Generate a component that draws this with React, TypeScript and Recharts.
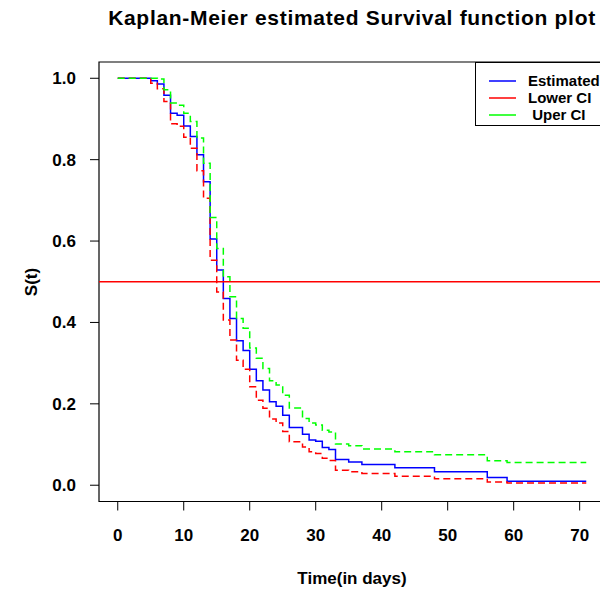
import React from "react";
import {
  LineChart,
  Line,
  XAxis,
  YAxis,
  ReferenceLine,
  ReferenceArea,
  Label,
} from "recharts";

// step times (days) and the three survival curves
const times = [0, 5, 6, 7, 8, 9, 10, 11, 12, 13, 14, 15, 16, 17, 18, 19, 20, 21, 22, 23, 24, 25, 26, 28, 29, 30, 31, 32, 33, 35, 37, 42, 48, 56, 59, 71];
const estimated = [1, 0.994, 0.986, 0.958, 0.914, 0.909, 0.883, 0.857, 0.812, 0.746, 0.605, 0.529, 0.459, 0.41, 0.355, 0.331, 0.285, 0.257, 0.234, 0.205, 0.194, 0.172, 0.142, 0.125, 0.111, 0.108, 0.093, 0.088, 0.063, 0.057, 0.051, 0.043, 0.033, 0.019, 0.0098, 0.0098];
const lowerCI = [1, 0.988, 0.974, 0.943, 0.888, 0.882, 0.855, 0.828, 0.773, 0.705, 0.553, 0.475, 0.406, 0.357, 0.307, 0.285, 0.242, 0.209, 0.189, 0.163, 0.153, 0.132, 0.107, 0.094, 0.082, 0.078, 0.066, 0.061, 0.037, 0.033, 0.029, 0.022, 0.016, 0.008, 0.0055, 0.0055];
const upperCI = [1, 1, 0.998, 0.972, 0.939, 0.934, 0.914, 0.894, 0.853, 0.791, 0.658, 0.582, 0.512, 0.463, 0.41, 0.386, 0.337, 0.312, 0.287, 0.257, 0.246, 0.221, 0.19, 0.164, 0.153, 0.148, 0.135, 0.131, 0.101, 0.097, 0.089, 0.082, 0.0746, 0.06, 0.056, 0.056];

const xTicks = [0, 10, 20, 30, 40, 50, 60, 70];
const yTicks = [0, 0.2, 0.4, 0.6, 0.8, 1.0];
const legendItems = [
  { label: "Estimated", color: "#0000FF" },
  { label: "Lower CI", color: "#FF0000" },
  { label: " Uper CI", color: "#00FF00" },
];

const FONT = "'Liberation Sans', Arial, Helvetica, sans-serif";
const X_DOMAIN: [number, number] = [-2.84, 73.84];
const Y_DOMAIN: [number, number] = [-0.04, 1.04];

const data = times.map((t, i) => ({
  t,
  est: estimated[i],
  lo: lowerCI[i],
  up: upperCI[i],
}));

const tickStyle = { fill: "#000", fontSize: 17, fontWeight: 700, fontFamily: FONT };

function LegendBox() {
  return (
    <div
      style={{
        position: "absolute",
        left: 475,
        top: 62,
        width: 140,
        height: 64,
        border: "1px solid #000",
        background: "#fff",
        boxSizing: "border-box",
        fontFamily: FONT,
        fontWeight: 700,
        fontSize: 15,
        paddingTop: 9,
      }}
    >
      {legendItems.map((it) => (
        <div key={it.label} style={{ display: "flex", alignItems: "center", height: 17 }}>
          <svg width={40} height={4} style={{ marginLeft: 13, flexShrink: 0 }}>
            <line x1={0} x2={27} y1={2} y2={2} stroke={it.color} strokeWidth={1.5} />
          </svg>
          <span style={{ marginLeft: -1, whiteSpace: "pre", color: "#000" }}>{it.label}</span>
        </div>
      ))}
    </div>
  );
}

export default function App() {
  return (
    <div
      style={{
        position: "absolute",
        left: 0,
        top: 0,
        width: 600,
        height: 594,
        overflow: "hidden",
        background: "#fff",
      }}
    >
      <div
        style={{
          position: "absolute",
          left: 99,
          width: 506,
          top: 6,
          textAlign: "center",
          fontFamily: FONT,
          fontWeight: 700,
          fontSize: 21,
          letterSpacing: 0.7,
          color: "#000",
          whiteSpace: "nowrap",
        }}
      >
        Kaplan-Meier estimated Survival function plot
      </div>
      <div
        style={{
          position: "absolute",
          left: 32,
          top: 282,
          transform: "translate(-50%, -50%) rotate(-90deg)",
          fontFamily: FONT,
          fontWeight: 700,
          fontSize: 17,
          color: "#000",
          whiteSpace: "nowrap",
        }}
      >
        S(t)
      </div>
      <LineChart
        width={620}
        height={594}
        data={data}
        margin={{ top: 62, right: 15, bottom: 52.5, left: 0 }}
      >
        <XAxis
          dataKey="t"
          type="number"
          domain={X_DOMAIN}
          ticks={xTicks}
          allowDataOverflow
          height={40}
          axisLine={false}
          tickSize={9}
          tickMargin={18}
          tickLine={{ stroke: "#000", strokeWidth: 1 }}
          tick={tickStyle}
        >
          <Label
            value="Time(in days)"
            position="bottom"
            offset={30}
            style={{ fill: "#000", fontSize: 17, fontWeight: 700, fontFamily: FONT }}
          />
        </XAxis>
        <YAxis
          type="number"
          domain={Y_DOMAIN}
          ticks={yTicks}
          allowDataOverflow
          width={99}
          axisLine={false}
          tickSize={9}
          tickMargin={14}
          tickLine={{ stroke: "#000", strokeWidth: 1 }}
          tick={tickStyle}
          tickFormatter={(v: number) => v.toFixed(1)}
        />
        <ReferenceArea
          x1={X_DOMAIN[0]}
          x2={X_DOMAIN[1]}
          y1={Y_DOMAIN[0]}
          y2={Y_DOMAIN[1]}
          fill="none"
          fillOpacity={0}
          stroke="#000"
          strokeWidth={1.2}
        />
        <Line
          dataKey="est"
          type="stepAfter"
          stroke="#0000FF"
          strokeWidth={1.5}
          dot={false}
          isAnimationActive={false}
        />
        <Line
          dataKey="lo"
          type="stepAfter"
          stroke="#FF0000"
          strokeWidth={1.5}
          strokeDasharray="7 4"
          dot={false}
          isAnimationActive={false}
        />
        <Line
          dataKey="up"
          type="stepAfter"
          stroke="#00FF00"
          strokeWidth={1.5}
          strokeDasharray="7 4"
          dot={false}
          isAnimationActive={false}
        />
        <ReferenceLine y={0.5} stroke="#FF0000" strokeWidth={1.5} />
      </LineChart>
      <LegendBox />
    </div>
  );
}
